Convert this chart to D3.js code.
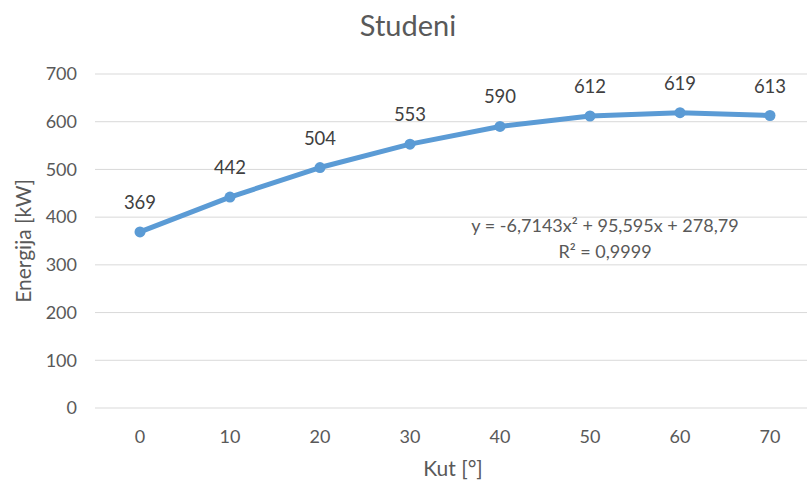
<!DOCTYPE html>
<html>
<head>
<meta charset="utf-8">
<script src="https://cdn.jsdelivr.net/npm/d3@7"></script>
<style>
  body { margin: 0; background: #fff; overflow: hidden; }
  text { font-family: Lato, "Open Sans", sans-serif; }
</style>
</head>
<body>
<div id="chart"></div>
<script>
var angles = [0, 10, 20, 30, 40, 50, 60, 70];
var energy = [369, 442, 504, 553, 590, 612, 619, 613];
var yTicks = [0, 100, 200, 300, 400, 500, 600, 700];
var trendLines = ["y = -6,7143x\u00B2 + 95,595x + 278,79", "R\u00B2 = 0,9999"];

var width = 807, height = 487;
var margin = {top: 74, right: 0, bottom: 79, left: 95};

var svg = d3.select("#chart").append("svg")
  .attr("width", width)
  .attr("height", height);

var g = svg.append("g")
  .attr("transform", "translate(" + margin.left + "," + margin.top + ")");

var w = width - margin.left - margin.right,
    h = height - margin.top - margin.bottom;

// plot area runs a bit past the right edge of the picture
var x = d3.scaleBand().domain(angles).range([0, 720]);
var y = d3.scaleLinear().domain([0, 700]).range([h, 0]);
var cx = function (d) { return x(d) + x.bandwidth() / 2; };

// grid
g.selectAll(".grid").data(yTicks).enter().append("line")
  .attr("x1", 0).attr("x2", w)
  .attr("y1", function (d) { return y(d); })
  .attr("y2", function (d) { return y(d); })
  .attr("stroke", "#d9d9d9")
  .attr("stroke-width", 1);

// y axis
var yAxis = g.append("g")
  .call(d3.axisLeft(y).tickValues(yTicks).tickSize(0).tickPadding(18));
yAxis.select(".domain").remove();
yAxis.selectAll("text").style("font-size", "18px").attr("fill", "#595959");

// x axis
var xAxis = g.append("g")
  .attr("transform", "translate(0," + h + ")")
  .call(d3.axisBottom(x).tickSize(0).tickPadding(22));
xAxis.select(".domain").remove();
xAxis.selectAll("text").style("font-size", "18px").attr("fill", "#595959");

// line
var line = d3.line()
  .x(function (d, i) { return cx(angles[i]); })
  .y(function (d) { return y(d); });

g.append("path")
  .datum(energy)
  .attr("fill", "none")
  .attr("stroke", "#5b9bd5")
  .attr("stroke-width", 5)
  .attr("stroke-linejoin", "round")
  .attr("stroke-linecap", "round")
  .attr("d", line);

g.selectAll(".dot").data(energy).enter().append("circle")
  .attr("cx", function (d, i) { return cx(angles[i]); })
  .attr("cy", function (d) { return y(d); })
  .attr("r", 5.5)
  .attr("fill", "#5b9bd5");

// data labels
g.selectAll(".lbl").data(energy).enter().append("text")
  .attr("x", function (d, i) { return cx(angles[i]); })
  .attr("y", function (d) { return y(d) - 23; })
  .attr("text-anchor", "middle")
  .style("font-size", "18.5px")
  .attr("fill", "#404040")
  .text(function (d) { return d; });

// trendline equation
g.selectAll(".eq").data(trendLines).enter().append("text")
  .attr("x", 510)
  .attr("y", function (d, i) { return 158 + i * 26; })
  .attr("text-anchor", "middle")
  .style("font-size", "18px")
  .attr("fill", "#595959")
  .text(function (d) { return d; });

// title
svg.append("text")
  .attr("x", 408).attr("y", 36)
  .attr("text-anchor", "middle")
  .style("font-size", "29px")
  .attr("fill", "#595959")
  .text("Studeni");

// axis titles
svg.append("text")
  .attr("x", 453).attr("y", 476)
  .attr("text-anchor", "middle")
  .style("font-size", "21px")
  .attr("fill", "#595959")
  .text("Kut [\u00B0]");

svg.append("text")
  .attr("transform", "translate(31," + (margin.top + h / 2) + ") rotate(-90)")
  .attr("text-anchor", "middle")
  .style("font-size", "21px")
  .attr("fill", "#595959")
  .text("Energija [kW]");
</script>
</body>
</html>
